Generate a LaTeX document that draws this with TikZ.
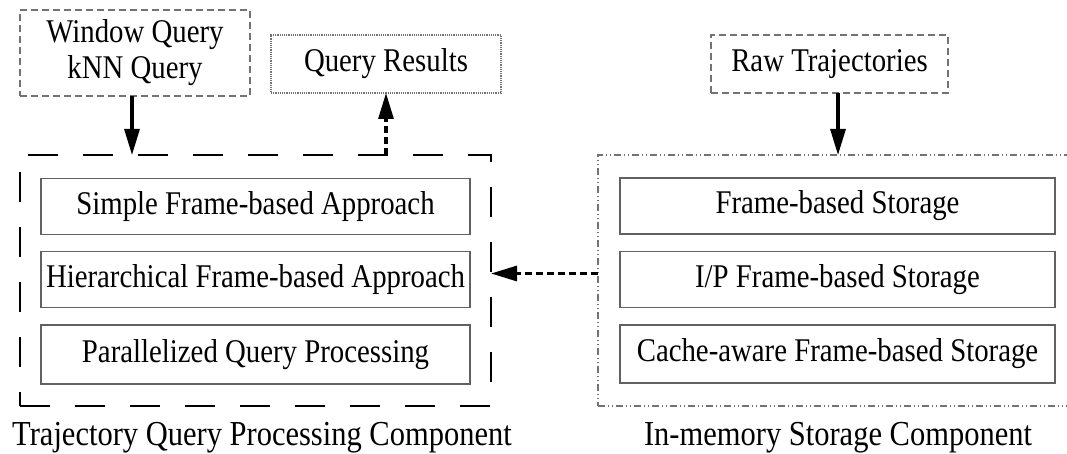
\documentclass[tikz,border=0pt]{standalone}
\usepackage{fontspec}
\usepackage{graphicx}
\setmainfont{Liberation Serif}
\usetikzlibrary{arrows.meta}
\newcommand{\tall}[1]{\scalebox{1}[1.15]{#1}}

\begin{document}
\begin{tikzpicture}[x=1pt,y=-1pt,
  every node/.style={font=\fontsize{28.8}{38}\selectfont, inner sep=0pt, outer sep=0pt},
  stagebox/.style={draw=black!62, line width=1.6pt, minimum height=56pt},
  inputbox/.style={draw=black!55, line width=1.5pt, dash pattern=on 7pt off 4pt},
  resultbox/.style={draw=black!55, line width=1.3pt, dash pattern=on 1.2pt off 1pt},
  procframe/.style={draw=black, line width=2.8pt, dash pattern=on 30pt off 25pt},
  storeframe/.style={draw=black!55, line width=1.2pt,
    dash pattern=on 7pt off 3pt on 1pt off 3pt on 1pt off 3pt},
  flow/.style={line width=3.1pt, -{Triangle[length=26pt,width=15pt]}},
  flowdashed/.style={flow, dash pattern=on 7pt off 4pt},
  caption/.style={font=\fontsize{30.5}{36}\selectfont, anchor=base}
]
\useasboundingbox (0,0) rectangle (1067,454);
\clip (0,0) rectangle (1067,454);

% input and output boxes
\node[inputbox, minimum width=230pt, minimum height=86pt, align=center] (wq) at (135,53)
  {\tall{Window Query}\\[-2pt]\tall{kNN Query}};
\node[resultbox, minimum width=230pt, minimum height=58pt] (qr) at (386,64) {\tall{Query Results}};
\node[inputbox, minimum width=237pt, minimum height=58pt] (rt) at (829.5,64) {\tall{Raw Trajectories}};

% component frames
\node[procframe, minimum width=471pt, minimum height=251pt] (lc) at (255.5,280.5) {};
\node[storeframe, minimum width=480pt, minimum height=251pt] (rc) at (838,280.5) {};

% query processing stages
\node[stagebox, minimum width=429pt] (qp1) at (255.5,206.5) {\tall{Simple Frame-based Approach}};
\node[stagebox, minimum width=429pt] (qp2) at (255.5,279.5) {\tall{Hierarchical Frame-based Approach}};
\node[stagebox, minimum width=429pt, minimum height=59pt] (qp3) at (255.5,354.5) {\tall{Parallelized Query Processing}};

% storage stages
\node[stagebox, minimum width=435pt] (st1) at (837.5,206) {\tall{Frame-based Storage}};
\node[stagebox, minimum width=435pt] (st2) at (837.5,279.5) {\tall{I/P Frame-based Storage}};
\node[stagebox, minimum width=435pt, minimum height=58pt] (st3) at (837.5,354) {\tall{Cache-aware Frame-based Storage}};

% captions
\node[caption] (lcap) at (262,445) {\tall{Trajectory Query Processing Component}};
\node[caption] (rcap) at (838,445) {\tall{In-memory Storage Component}};

% connectors
\draw[flow] ([xshift=-3pt]wq.south) -- ([xshift=-3pt]wq.south |- lc.north);
\draw[flowdashed] (qr.south |- lc.north) -- (qr.south);
\draw[flow] (rc.north |- rt.south) -- (rc.north);
\draw[flowdashed] ([yshift=6pt]rc.west |- st2) -- ([yshift=6pt]lc.east |- qp2);
\end{tikzpicture}
\end{document}
